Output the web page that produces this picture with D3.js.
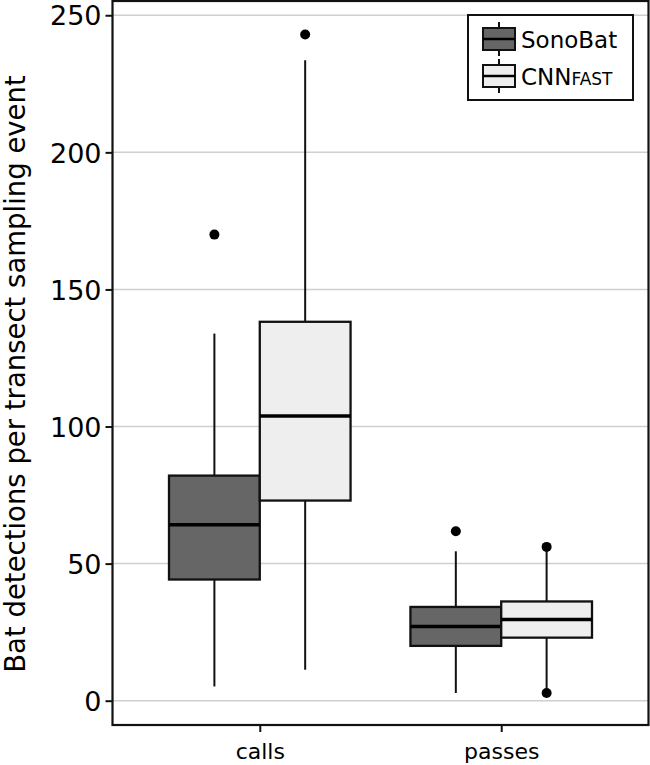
<!DOCTYPE html>
<html>
<head>
<meta charset="utf-8">
<script src="https://cdn.jsdelivr.net/npm/d3@7"></script>
<style>
  body { margin: 0; background: #fff; }
  svg { display: block; font-family: "DejaVu Sans", sans-serif; }
</style>
</head>
<body>
<svg id="chart" width="650" height="765"></svg>
<script>
// data
var categories = ["calls", "passes"];
var seriesNames = ["SonoBat", "CNNFAST"];
// [whisker low, q1, median, q3, whisker high], one row per category
var sonoBatBoxes = [[5.2, 44.2, 64.2, 82.1, 133.9], [2.8, 20.0, 27.1, 34.2, 54.5]];
var cnnFastBoxes = [[11.3, 73.0, 103.8, 138.2, 233.6], [4.5, 23.0, 29.6, 36.2, 55.5]];
var sonoBatOutliers = [[170.0], [61.8]];
var cnnFastOutliers = [[243.0], [56.1, 2.8]];
var yTicks = [0, 50, 100, 150, 200, 250];
var fills = ["#666666", "#eeeeee"];

var svg = d3.select("#chart");
var plotLeft = 112.5, plotRight = 648.5, plotTop = 1, plotBottom = 725;

var x = d3.scalePoint().domain(categories).range([plotLeft, plotRight]).padding(0.61);
var boxW = x.step() * 0.376;
var y = d3.scaleLinear().domain([-8.86, 255.2]).range([plotBottom, plotTop]);

// grid
svg.append("g").selectAll("line")
    .data(yTicks)
    .enter()
    .append("line")
    .attr("x1", plotLeft).attr("x2", plotRight)
    .attr("y1", function (d) { return y(d); })
    .attr("y2", function (d) { return y(d); })
    .attr("stroke", "#cfcfcf")
    .attr("stroke-width", 1.5);

// boxes
var allBoxes = [sonoBatBoxes, cnnFastBoxes];
var allOutliers = [sonoBatOutliers, cnnFastOutliers];
var rows = [];
allBoxes.forEach(function (boxes, s) {
    boxes.forEach(function (b, c) {
        var cx = x(categories[c]) + (s === 0 ? -boxW / 2 : boxW / 2);
        rows.push({ s: s, cx: cx, b: b, out: allOutliers[s][c] });
    });
});

var g = svg.append("g");
rows.forEach(function (r) {
    var b = r.b;
    g.append("line")
        .attr("x1", r.cx).attr("x2", r.cx)
        .attr("y1", y(b[0])).attr("y2", y(b[1]))
        .attr("stroke", "#111").attr("stroke-width", 2);
    g.append("line")
        .attr("x1", r.cx).attr("x2", r.cx)
        .attr("y1", y(b[3])).attr("y2", y(b[4]))
        .attr("stroke", "#111").attr("stroke-width", 2);
    g.append("rect")
        .attr("x", r.cx - boxW / 2)
        .attr("y", y(b[3]))
        .attr("width", boxW)
        .attr("height", y(b[1]) - y(b[3]))
        .attr("fill", fills[r.s])
        .attr("stroke", "#111").attr("stroke-width", 2.3);
    g.append("line")
        .attr("x1", r.cx - boxW / 2).attr("x2", r.cx + boxW / 2)
        .attr("y1", y(b[2])).attr("y2", y(b[2]))
        .attr("stroke", "#000").attr("stroke-width", 3.5);
    g.selectAll(null)
        .data(r.out)
        .enter()
        .append("circle")
        .attr("cx", r.cx)
        .attr("cy", function (d) { return y(d); })
        .attr("r", 5)
        .attr("fill", "#000");
});

// axes
var yAxis = d3.axisLeft(y).tickValues(yTicks).tickSize(7).tickPadding(4);
var gy = svg.append("g")
    .attr("transform", "translate(" + plotLeft + ",0)")
    .call(yAxis)
    .attr("font-family", "DejaVu Sans");
gy.selectAll("text").style("font-size", "27px").attr("fill", "#000").attr("dy", "0.36em");

var xAxis = d3.axisBottom(x).tickSize(7).tickPadding(11);
var gx = svg.append("g")
    .attr("transform", "translate(0," + plotBottom + ")")
    .call(xAxis)
    .attr("font-family", "DejaVu Sans");
gx.selectAll("text").style("font-size", "22px").attr("fill", "#000");

svg.selectAll(".domain").remove();
svg.selectAll(".tick line").attr("stroke", "#111").attr("stroke-width", 2);

// frame
svg.append("rect")
    .attr("x", plotLeft).attr("y", plotTop)
    .attr("width", plotRight - plotLeft).attr("height", plotBottom - plotTop)
    .attr("fill", "none")
    .attr("stroke", "#111").attr("stroke-width", 2.2);

// y label
svg.append("text")
    .attr("transform", "translate(25,374) rotate(-90)")
    .attr("text-anchor", "middle")
    .style("font-size", "27.5px")
    .text("Bat detections per transect sampling event");

// legend
var lg = svg.append("g");
lg.append("rect")
    .attr("x", 468).attr("y", 15)
    .attr("width", 165).attr("height", 85)
    .attr("fill", "#fff")
    .attr("stroke", "#111").attr("stroke-width", 2);

seriesNames.forEach(function (name, i) {
    var cy = 39 + i * 37;
    var hx = 499;
    lg.append("line")
        .attr("x1", hx).attr("x2", hx)
        .attr("y1", cy - 17).attr("y2", cy + 17)
        .attr("stroke", "#111").attr("stroke-width", 2);
    lg.append("rect")
        .attr("x", hx - 16).attr("y", cy - 11)
        .attr("width", 32).attr("height", 22)
        .attr("fill", fills[i])
        .attr("stroke", "#111").attr("stroke-width", 2);
    lg.append("line")
        .attr("x1", hx - 16).attr("x2", hx + 16)
        .attr("y1", cy).attr("y2", cy)
        .attr("stroke", "#000").attr("stroke-width", 2.5);
    var t = lg.append("text")
        .attr("x", 521).attr("y", cy + 9)
        .style("font-size", "23px");
    if (name === "CNNFAST") {
        t.append("tspan").text("CNN");
        t.append("tspan").style("font-size", "17px").text("FAST");
    } else {
        t.text(name);
    }
});
</script>
</body>
</html>
